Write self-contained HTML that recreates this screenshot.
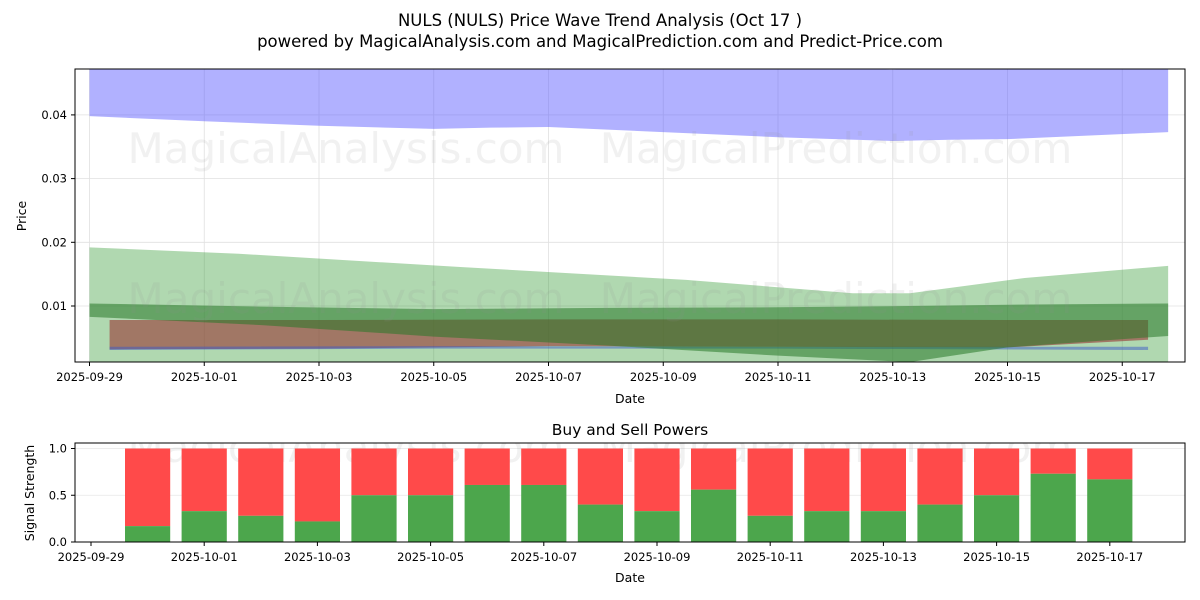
<!DOCTYPE html>
<html><head><meta charset="utf-8"><style>
body{margin:0;background:#fff;}
svg{display:block;font-family:"DejaVu Sans","Liberation Sans",sans-serif;}
</style></head><body>
<svg id="c" width="1200" height="600"></svg>
<script>
// ---- data ----
const bandDays = [0,2,4,6,7,8,10,12,14,15,16,18.8];
const blueLow = [0.0398,0.0390,0.0383,0.0378,0.0380,0.0381,0.0373,0.0365,0.0359,0.0361,0.0362,0.0373];
const blueHigh = [0.0476,0.0476,0.0476,0.0476,0.0476,0.0476,0.0476,0.0476,0.0471,0.0474,0.0476,0.0476];
const lgDays = [0,2.6,6.5,10.4,13.3,14.3,16.3,18.8];
const lgHigh = [0.0192,0.0182,0.0161,0.0141,0.0120,0.0120,0.0144,0.0163];
const lgLow = [0.0005,0.0005,0.0005,0.0005,0.0005,0.0005,0.0005,0.0005];
const dgDays = [0,3,6,9,12,14.3,16,18.8];
const dgHigh = [0.0104,0.0099,0.0095,0.0097,0.0098,0.0100,0.0102,0.0104];
const dgLow = [0.0083,0.0070,0.0052,0.0038,0.0022,0.0012,0.0035,0.0053];
const redDays = [0.35,4,8,12,16,18.45];
const redHigh = [0.0078,0.0078,0.0079,0.0079,0.0078,0.0078];
const redLow = [0.0032,0.0033,0.0037,0.0036,0.0035,0.0047];
const blDays = [0.35,6,12,18.45];
const blHigh = [0.0036,0.0037,0.0036,0.0036];
const blLow = [0.0031,0.0033,0.0033,0.0031];
const priceTicks = [0.01,0.02,0.03,0.04];
const dateLabels = ["2025-09-29","2025-10-01","2025-10-03","2025-10-05","2025-10-07","2025-10-09","2025-10-11","2025-10-13","2025-10-15","2025-10-17"];
const barDays = [1,2,3,4,5,6,7,8,9,10,11,12,13,14,15,16,17,18];
const buyVals = [0.17,0.33,0.28,0.22,0.5,0.5,0.61,0.61,0.4,0.33,0.56,0.28,0.33,0.33,0.4,0.5,0.73,0.67];
const sigTicks = [0,0.5,1.0];

const NS="http://www.w3.org/2000/svg", svg=document.getElementById('c');
function mk(t,a,p){const e=document.createElementNS(NS,t);for(const k in a)e.setAttribute(k,a[k]);(p||svg).appendChild(e);return e;}
function tx(s,a,p){const e=mk('text',a,p);e.textContent=s;return e;}
const X1=d=>89.5+57.375*d, Y1=v=>369.7-v*6370;
const X2=d=>91+56.6*d, Y2=v=>542-v*93.5;

let t=tx("NULS (NULS) Price Wave Trend Analysis (Oct 17 )",{x:600,y:26,'text-anchor':'middle','font-size':16.5});

t=tx("powered by MagicalAnalysis.com and MagicalPrediction.com and Predict-Price.com",{x:600,y:47,'text-anchor':'middle','font-size':16.5});


const cp=mk('clipPath',{id:'cp1'});mk('rect',{x:75,y:69,width:1110,height:293},cp);
const g=mk('g',{'clip-path':'url(#cp1)'});

dateLabels.forEach((l,i)=>{mk('line',{x1:X1(2*i),x2:X1(2*i),y1:69,y2:362,stroke:'#e0e0e0','stroke-width':0.8},g);});
priceTicks.forEach(v=>{mk('line',{x1:75,x2:1185,y1:Y1(v),y2:Y1(v),stroke:'#e0e0e0','stroke-width':0.8},g);});
function band(days,hi,lo,fill,name){
  let d='M'+days.map((x,i)=>X1(x)+','+Y1(hi[i])).join('L');
  for(let i=days.length-1;i>=0;i--)d+='L'+X1(days[i])+','+Y1(lo[i]);
  const p=mk('path',{d:d+'Z',fill:fill},g);
  
}
band(bandDays,blueHigh,blueLow,'rgba(90,90,255,0.47)','blue-band');
band(lgDays,lgHigh,lgLow,'rgba(40,150,40,0.37)','light-green-band');
band(redDays,redHigh,redLow,'rgba(150,40,40,0.55)','red-band');
band(blDays,blHigh,blLow,'rgba(60,90,200,0.5)','blue-low-band');
band(dgDays,dgHigh,dgLow,'rgba(40,120,40,0.55)','dark-green-band');
[['MagicalAnalysis.com',346,163],['MagicalPrediction.com',836,163],['MagicalAnalysis.com',346,313],['MagicalPrediction.com',836,313]].forEach(w=>{
  const e=tx(w[0],{x:w[1],y:w[2],'text-anchor':'middle','font-size':42,fill:'rgba(150,150,150,0.13)'});
  
});
mk('rect',{x:75,y:69,width:1110,height:293,fill:'none',stroke:'#000','stroke-width':1});
priceTicks.forEach(v=>{mk('line',{x1:71,x2:75,y1:Y1(v),y2:Y1(v),stroke:'#000'});
  const e=tx(v.toFixed(2),{x:67,y:Y1(v)+4,'text-anchor':'end','font-size':11.5});
  });
dateLabels.forEach((l,i)=>{mk('line',{x1:X1(2*i),x2:X1(2*i),y1:362,y2:366,stroke:'#000'});
  const e=tx(l,{x:X1(2*i),y:381,'text-anchor':'middle','font-size':11.5});
  });
t=tx("Date",{x:630,y:403,'text-anchor':'middle','font-size':12.5});
t=tx("Price",{x:0,y:0,'text-anchor':'middle','font-size':12.5,transform:'translate(26,216) rotate(-90)'});

t=tx("Buy and Sell Powers",{x:630,y:435,'text-anchor':'middle','font-size':15.5});
const cp2=mk('clipPath',{id:'cp2'});mk('rect',{x:75,y:443,width:1110,height:99},cp2);
const g2=mk('g',{'clip-path':'url(#cp2)'});

sigTicks.forEach(v=>mk('line',{x1:75,x2:1185,y1:Y2(v),y2:Y2(v),stroke:'#e6e6e6','stroke-width':0.8},g2));
const w2=tx('MagicalAnalysis.com',{x:346,y:462,'text-anchor':'middle','font-size':42,fill:'rgba(150,150,150,0.13)'},g2);

const w3=tx('MagicalPrediction.com',{x:836,y:462,'text-anchor':'middle','font-size':42,fill:'rgba(150,150,150,0.13)'},g2);

barDays.forEach((d,i)=>{
  const x=X2(d)-22.6, bw=45.2;
  const s=mk('rect',{x:x,y:Y2(1),width:bw,height:Y2(buyVals[i])-Y2(1),fill:'#ff4a4a'},g2);
  
  const b=mk('rect',{x:x,y:Y2(buyVals[i]),width:bw,height:Y2(0)-Y2(buyVals[i]),fill:'#4ca64c'},g2);
  
});
mk('rect',{x:75,y:443,width:1110,height:99,fill:'none',stroke:'#000','stroke-width':1});
sigTicks.forEach(v=>{mk('line',{x1:71,x2:75,y1:Y2(v),y2:Y2(v),stroke:'#000'});
  const e=tx(v.toFixed(1),{x:67,y:Y2(v)+4,'text-anchor':'end','font-size':11.5});
  });
dateLabels.forEach((l,i)=>{mk('line',{x1:X2(2*i),x2:X2(2*i),y1:542,y2:546,stroke:'#000'});
  const e=tx(l,{x:X2(2*i),y:561,'text-anchor':'middle','font-size':11.5});
  });
t=tx("Date",{x:630,y:582,'text-anchor':'middle','font-size':12.5});
t=tx("Signal Strength",{x:0,y:0,'text-anchor':'middle','font-size':12.5,transform:'translate(34,493) rotate(-90)'});
</script>
</body></html>
